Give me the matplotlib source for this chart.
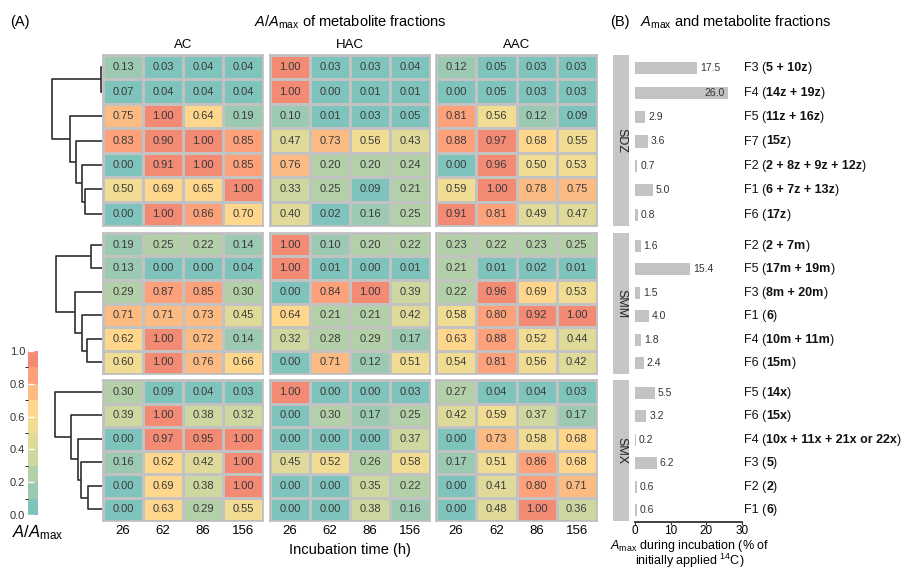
import numpy as np
import matplotlib.pyplot as plt
from matplotlib.colors import ListedColormap, BoundaryNorm
from matplotlib.cm import ScalarMappable

plt.rcParams['font.family'] = ['Liberation Sans', 'DejaVu Sans']
plt.rcParams['mathtext.fontset'] = 'custom'
plt.rcParams['mathtext.rm'] = 'Liberation Sans'
plt.rcParams['mathtext.it'] = 'Liberation Sans:italic'
plt.rcParams['mathtext.bf'] = 'Liberation Sans:bold'

# ---- datos ----
times = ['26', '62', '86', '156']
treatments = ['AC', 'HAC', 'AAC']

sdz_ac = [[0.13, 0.03, 0.04, 0.04], [0.07, 0.04, 0.04, 0.04], [0.75, 1.00, 0.64, 0.19],
          [0.83, 0.90, 1.00, 0.85], [0.00, 0.91, 1.00, 0.85], [0.50, 0.69, 0.65, 1.00],
          [0.00, 1.00, 0.86, 0.70]]
sdz_hac = [[1.00, 0.03, 0.03, 0.04], [1.00, 0.00, 0.01, 0.01], [0.10, 0.01, 0.03, 0.05],
           [0.47, 0.73, 0.56, 0.43], [0.76, 0.20, 0.20, 0.24], [0.33, 0.25, 0.09, 0.21],
           [0.40, 0.02, 0.16, 0.25]]
sdz_aac = [[0.12, 0.05, 0.03, 0.03], [0.00, 0.05, 0.03, 0.03], [0.81, 0.56, 0.12, 0.09],
           [0.88, 0.97, 0.68, 0.55], [0.00, 0.96, 0.50, 0.53], [0.59, 1.00, 0.78, 0.75],
           [0.91, 0.81, 0.49, 0.47]]

smm_ac = [[0.19, 0.25, 0.22, 0.14], [0.13, 0.00, 0.00, 0.04], [0.29, 0.87, 0.85, 0.30],
          [0.71, 0.71, 0.73, 0.45], [0.62, 1.00, 0.72, 0.14], [0.60, 1.00, 0.76, 0.66]]
smm_hac = [[1.00, 0.10, 0.20, 0.22], [1.00, 0.01, 0.00, 0.01], [0.00, 0.84, 1.00, 0.39],
           [0.64, 0.21, 0.21, 0.42], [0.32, 0.28, 0.29, 0.17], [0.00, 0.71, 0.12, 0.51]]
smm_aac = [[0.23, 0.22, 0.23, 0.25], [0.21, 0.01, 0.02, 0.01], [0.22, 0.96, 0.69, 0.53],
           [0.58, 0.80, 0.92, 1.00], [0.63, 0.88, 0.52, 0.44], [0.54, 0.81, 0.56, 0.42]]

smx_ac = [[0.30, 0.09, 0.04, 0.03], [0.39, 1.00, 0.38, 0.32], [0.00, 0.97, 0.95, 1.00],
          [0.16, 0.62, 0.42, 1.00], [0.00, 0.69, 0.38, 1.00], [0.00, 0.63, 0.29, 0.55]]
smx_hac = [[1.00, 0.00, 0.00, 0.03], [0.00, 0.30, 0.17, 0.25], [0.00, 0.00, 0.00, 0.37],
           [0.45, 0.52, 0.26, 0.58], [0.00, 0.00, 0.35, 0.22], [0.00, 0.00, 0.38, 0.16]]
smx_aac = [[0.27, 0.04, 0.04, 0.03], [0.42, 0.59, 0.37, 0.17], [0.00, 0.73, 0.58, 0.68],
           [0.17, 0.51, 0.86, 0.68], [0.00, 0.41, 0.80, 0.71], [0.00, 0.48, 1.00, 0.36]]

# enlaces del dendrograma: (nodo a, nodo b, altura)
sdz_link = [(0, 1, 0.02), (5, 6, 0.33), (4, 8, 0.39), (3, 9, 0.53), (2, 10, 0.65), (7, 11, 1.00)]
smm_link = [(0, 1, 0.21), (4, 5, 0.29), (3, 7, 0.40), (2, 8, 0.55), (6, 9, 0.93)]
smx_link = [(4, 5, 0.27), (3, 6, 0.43), (2, 7, 0.48), (1, 8, 0.63), (0, 9, 0.95)]

sdz_amax = [17.5, 26.0, 2.9, 3.6, 0.7, 5.0, 0.8]
sdz_frac = ['F3', 'F4', 'F5', 'F7', 'F2', 'F1', 'F6']
sdz_comp = ['5 + 10z', '14z + 19z', '11z + 16z', '15z', '2 + 8z + 9z + 12z', '6 + 7z + 13z', '17z']

smm_amax = [1.6, 15.4, 1.5, 4.0, 1.8, 2.4]
smm_frac = ['F2', 'F5', 'F3', 'F1', 'F4', 'F6']
smm_comp = ['2 + 7m', '17m + 19m', '8m + 20m', '6', '10m + 11m', '15m']

smx_amax = [5.5, 3.2, 0.2, 6.2, 0.6, 0.6]
smx_frac = ['F5', 'F6', 'F4', 'F3', 'F2', 'F1']
smx_comp = ['14x', '15x', '10x + 11x + 21x or 22x', '5', '2', '6']

groups = [
    ('SDZ', [sdz_ac, sdz_hac, sdz_aac], sdz_link, sdz_amax, sdz_frac, sdz_comp),
    ('SMM', [smm_ac, smm_hac, smm_aac], smm_link, smm_amax, smm_frac, smm_comp),
    ('SMX', [smx_ac, smx_hac, smx_aac], smx_link, smx_amax, smx_frac, smx_comp),
]

colores = ['#7fc4bc', '#9bc9b2', '#b3d0a8', '#cdd8a1', '#dfd99a',
           '#f0dc92', '#fed78c', '#fdbb84', '#fca17a', '#f38a74']
cmap = ListedColormap(colores)
norm = BoundaryNorm(np.linspace(0, 1, 11), cmap.N)

# ---- geometría (pixeles) ----
W, H = 919, 572
def caja(x0, y0, x1, y1):
    return [x0 / W, 1 - y1 / H, (x1 - x0) / W, (y1 - y0) / H]

col_px = [(103, 263), (270, 430), (436, 597)]
fila_px = [(55, 226), (233, 374), (380, 521)]

fig = plt.figure(figsize=(W / 100, H / 100), dpi=100)

def dendro(ax, enlaces, n):
    pos = {i: float(i) for i in range(n)}
    alt = {i: 0.0 for i in range(n)}
    for k, (a, b, h) in enumerate(enlaces):
        ax.plot([alt[a], h, h, alt[b]], [pos[a], pos[a], pos[b], pos[b]],
                color='#2e2e2e', lw=1.2, solid_capstyle='butt', clip_on=False)
        pos[n + k] = (pos[a] + pos[b]) / 2
        alt[n + k] = h
    ax.set_xlim(1.0, 0)
    ax.set_ylim(n - 0.5, -0.5)
    ax.axis('off')

for g, (nombre, mats, enlaces, amax, frac, comp) in enumerate(groups):
    y0, y1 = fila_px[g]
    n = len(amax)
    # dendrograma
    axd = fig.add_axes(caja(52, y0, 102, y1))
    dendro(axd, enlaces, n)
    # mapas de calor
    for c, m in enumerate(mats):
        x0, x1 = col_px[c]
        ax = fig.add_axes(caja(x0, y0, x1, y1))
        v = np.array(m)
        ax.pcolormesh(v, cmap=cmap, norm=norm, edgecolors='#c2c2c2', linewidth=0.8)
        ax.set_ylim(n, 0)
        ax.set_xlim(0, 4)
        for i in range(n):
            for j in range(4):
                ax.text(j + 0.5, i + 0.5, f'{v[i, j]:.2f}', ha='center', va='center',
                        fontsize=8, color='#3a3a3a')
        for s in ax.spines.values():
            s.set_color('#bdbdbd')
            s.set_linewidth(1.2)
        ax.set_yticks([])
        if g == 2:
            ax.set_xticks(np.arange(4) + 0.5)
            ax.set_xticklabels(times, fontsize=9.5)
            ax.tick_params(axis='x', length=0, pad=3)
        else:
            ax.set_xticks([])
        if g == 0:
            fig.text((x0 + x1) / 2 / W, 1 - 45 / H, treatments[c], ha='center', va='center',
                     fontsize=9.5)
    # barra gris del grupo
    axg = fig.add_axes(caja(613, y0, 629, y1))
    axg.set_facecolor('#c6c6c6')
    for s in axg.spines.values():
        s.set_visible(False)
    axg.set_xticks([])
    axg.set_yticks([])
    axg.text(0.5, 0.5, nombre, rotation=270, ha='center', va='center', fontsize=9,
             transform=axg.transAxes, color='#222222')
    # barras Amax
    axb = fig.add_axes(caja(635, y0 + 1, 742, y1 + 1))
    yy = np.arange(n)
    axb.barh(yy, amax, height=0.5, color='#c3c3c3')
    axb.set_xlim(0, 30)
    axb.set_ylim(n - 0.5, -0.5)
    axb.set_yticks([])
    for s in ['top', 'right', 'left']:
        axb.spines[s].set_visible(False)
    for i, a in enumerate(amax):
        if a > 20:
            axb.text(a - 0.8, i, f'{a:.1f}', ha='right', va='center', fontsize=7.5, color='#333333')
        else:
            axb.text(a + 0.8, i, f'{a:.1f}', ha='left', va='center', fontsize=7.5, color='#333333')
        t1 = axb.text(30.6, i, f'{frac[i]} (', ha='left', va='center', fontsize=9,
                      color='#111111', clip_on=False)
        t2 = axb.annotate(comp[i], xy=(1, 0), xycoords=t1, ha='left', va='bottom',
                          fontsize=9, fontweight='bold', color='#111111')
        axb.annotate(')', xy=(1, 0), xycoords=t2, ha='left', va='bottom',
                     fontsize=9, color='#111111')
    if g == 2:
        axb.spines['bottom'].set_color('#333333')
        axb.spines['bottom'].set_linewidth(1.3)
        axb.set_xticks([0, 10, 20, 30])
        axb.tick_params(axis='x', labelsize=8.5, length=2.5, pad=0, color='#333333')
    else:
        axb.spines['bottom'].set_visible(False)
        axb.set_xticks([])

# barra de color
cax = fig.add_axes(caja(28, 351, 38, 515))
cb = fig.colorbar(ScalarMappable(norm=norm, cmap=cmap), cax=cax, ticks=[0, 0.2, 0.4, 0.6, 0.8, 1.0])
cb.outline.set_visible(False)
cax.yaxis.set_ticks_position('left')
cax.yaxis.set_label_position('left')
cax.set_yticklabels(['0.0', '0.2', '0.4', '0.6', '0.8', '1.0'])
cax.tick_params(axis='y', direction='in', color='white', length=4, width=1, labelsize=8,
                labelcolor='#333333', pad=2)
fig.text(12 / W, 1 - 533 / H, r'$A/A_{\rm max}$', fontsize=12, ha='left', va='center')

# textos
fig.text(10 / W, 1 - 22 / H, '(A)', fontsize=10.5, ha='left', va='center')
fig.text(350 / W, 1 - 22 / H, r'$A/A_{\rm max}$ of metabolite fractions', fontsize=10.5,
         ha='center', va='center')
fig.text(350 / W, 1 - 550 / H, 'Incubation time (h)', fontsize=10.5, ha='center', va='center')
fig.text(610 / W, 1 - 22 / H, '(B)', fontsize=10.5, ha='left', va='center')
fig.text(640 / W, 1 - 22 / H, r'$A_{\rm max}$ and metabolite fractions', fontsize=10.5,
         ha='left', va='center')
fig.text(690 / W, 1 - 570 / H, r'$A_{\rm max}$ during incubation (% of' + '\n' +
         r'initially applied $^{14}$C)', fontsize=9, ha='center', va='bottom',
         linespacing=0.85)

fig.savefig('out.png', dpi=100)
